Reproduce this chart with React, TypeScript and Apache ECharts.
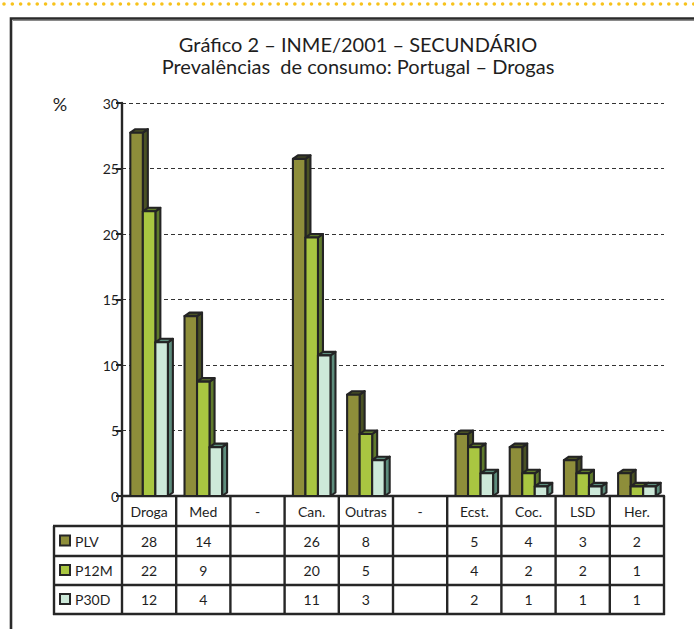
import React, { useEffect, useRef } from "react";
import * as echarts from "echarts";

const categories = ["Droga", "Med", "-", "Can.", "Outras", "-", "Ecst.", "Coc.", "LSD", "Her."];
const seriesNames = ["PLV", "P12M", "P30D"];
const plv = [28, 14, null, 26, 8, null, 5, 4, 3, 2];
const p12m = [22, 9, null, 20, 5, null, 4, 2, 2, 1];
const p30d = [12, 4, null, 11, 3, null, 2, 1, 1, 1];
const yTicks = [0, 5, 10, 15, 20, 25, 30];

const frontColors = ["#8e8e3a", "#a9c641", "#cde9d9"];
const sideColors = ["#4a5224", "#5f7a2c", "#5d8c7c"];

const FONT = "Lato, 'Open Sans', sans-serif";
const GRID_LEFT = 122;
const GRID_TOP = 103;
const GRID_W = 542;
const AXIS_Y = 496;
const ROW_Y = [496, 526, 556, 585, 614];
const LEG_X = 54;

export default function App() {
  const ref = useRef<HTMLDivElement>(null);
  useEffect(() => {
    if (!ref.current) return;
    const chart = echarts.init(ref.current, null, { renderer: "svg" });
    const allSeries = [plv, p12m, p30d];
    const colW = GRID_W / categories.length;

    const makeSeries = (vals: (number | null)[], s: number) => ({
      type: "custom",
      name: seriesNames[s],
      data: vals.map((v, i) => (v == null ? null : [i, v])).filter((d) => d != null),
      renderItem: (params: any, api: any) => {
        const idx = api.value(0);
        const val = api.value(1);
        const top = api.coord([idx, val]);
        const base = api.coord([idx, 0]);
        const cw = api.size([1, 0])[0];
        const bw = cw * 0.231;
        const dx = 5;
        const dy = 3.5;
        const x0 = top[0] - 1.5 * bw + s * bw;
        const x1 = x0 + bw;
        const yT = top[1] + dy;
        const yB = base[1];
        const stroke = { stroke: "#242424", lineWidth: 2.1, lineJoin: "round" };
        return {
          type: "group",
          children: [
            {
              type: "polygon",
              shape: { points: [[x1, yT], [x1 + dx, yT - dy], [x1 + dx, yB - dy], [x1, yB]] },
              style: { fill: sideColors[s], ...stroke },
            },
            {
              type: "polygon",
              shape: { points: [[x0, yT], [x0 + dx, yT - dy], [x1 + dx, yT - dy], [x1, yT]] },
              style: { fill: sideColors[s], ...stroke },
            },
            {
              type: "rect",
              shape: { x: x0, y: yT, width: bw, height: yB - yT },
              style: { fill: frontColors[s], ...stroke },
            },
          ],
        };
      },
    });

    const graphics: any[] = [];
    graphics.push({
      type: "line",
      shape: { x1: 4, y1: 4, x2: 694, y2: 4 },
      style: { stroke: "#f7c21c", lineWidth: 3.6, lineDash: [0.01, 8.3], lineCap: "round" },
    });
    graphics.push({
      type: "polyline",
      shape: { points: [[11, 640], [11, 18.5], [700, 18.5]] },
      style: { stroke: "#2a2a2a", lineWidth: 2.6, fill: null },
    });
    graphics.push({
      type: "line",
      shape: { x1: 13, y1: 20.5, x2: 700, y2: 20.5 },
      style: { stroke: "#8a8a8a", lineWidth: 1 },
    });
    graphics.push({
      type: "text",
      x: 358,
      y: 44,
      style: { text: "Gráfico 2 – INME/2001 – SECUNDÁRIO", font: `20px ${FONT}`, fill: "#1e1e1e", align: "center", verticalAlign: "middle" },
    });
    graphics.push({
      type: "text",
      x: 358,
      y: 66,
      style: { text: "Prevalências  de consumo: Portugal – Drogas", font: `20px ${FONT}`, fill: "#1e1e1e", align: "center", verticalAlign: "middle" },
    });
    graphics.push({
      type: "text",
      x: 60,
      y: 104,
      style: { text: "%", font: `18px ${FONT}`, fill: "#1e1e1e", align: "center", verticalAlign: "middle" },
    });
    const lineStyle = { stroke: "#262626", lineWidth: 2.4 };
    for (let i = 0; i <= categories.length; i++) {
      const x = GRID_LEFT + i * colW;
      graphics.push({ type: "line", shape: { x1: x, y1: AXIS_Y, x2: x, y2: ROW_Y[4] + 1 }, style: lineStyle });
    }
    graphics.push({ type: "line", shape: { x1: LEG_X, y1: ROW_Y[1], x2: LEG_X, y2: ROW_Y[4] + 1 }, style: lineStyle });
    for (let r = 1; r < ROW_Y.length; r++) {
      graphics.push({ type: "line", shape: { x1: LEG_X - 1, y1: ROW_Y[r], x2: GRID_LEFT + GRID_W + 1, y2: ROW_Y[r] }, style: lineStyle });
    }
    allSeries.forEach((vals, s) => {
      const cy = (ROW_Y[s + 1] + ROW_Y[s + 2]) / 2;
      graphics.push({
        type: "rect",
        shape: { x: 60, y: cy - 5.5, width: 10, height: 10 },
        style: { fill: frontColors[s], stroke: "#262626", lineWidth: 2 },
      });
      graphics.push({
        type: "text",
        x: 75,
        y: cy,
        style: { text: seriesNames[s], font: `14px ${FONT}`, fill: "#1e1e1e", align: "left", verticalAlign: "middle" },
      });
      vals.forEach((v, i) => {
        if (v == null) return;
        graphics.push({
          type: "text",
          x: GRID_LEFT + (i + 0.5) * colW,
          y: cy,
          style: { text: String(v), font: `14px ${FONT}`, fill: "#1e1e1e", align: "center", verticalAlign: "middle" },
        });
      });
    });

    chart.setOption({
      animation: false,
      backgroundColor: "#ffffff",
      grid: { left: GRID_LEFT, top: GRID_TOP, width: GRID_W, bottom: 629 - AXIS_Y },
      xAxis: {
        type: "category",
        data: categories,
        boundaryGap: true,
        axisLine: { show: true, lineStyle: { color: "#262626", width: 2.4 } },
        axisTick: { show: false },
        axisLabel: {
          interval: 0,
          margin: 15,
          verticalAlign: "middle",
          fontFamily: FONT,
          fontSize: 14,
          color: "#1e1e1e",
        },
        splitLine: { show: false },
      },
      yAxis: {
        type: "value",
        min: yTicks[0],
        max: yTicks[yTicks.length - 1],
        interval: 5,
        axisLine: { show: true, lineStyle: { color: "#262626", width: 2.4 } },
        axisTick: { show: true, length: 6, lineStyle: { color: "#262626", width: 2 } },
        axisLabel: { margin: 3, fontFamily: FONT, fontSize: 14, color: "#1e1e1e" },
        splitLine: { show: true, lineStyle: { color: "#333333", width: 1, type: [4, 3] } },
      },
      series: allSeries.map((vals, s) => makeSeries(vals, s)),
      graphic: graphics,
    });
    return () => chart.dispose();
  }, []);
  return <div ref={ref} style={{ position: "fixed", left: 0, top: 0, width: 694, height: 629 }} />;
}
